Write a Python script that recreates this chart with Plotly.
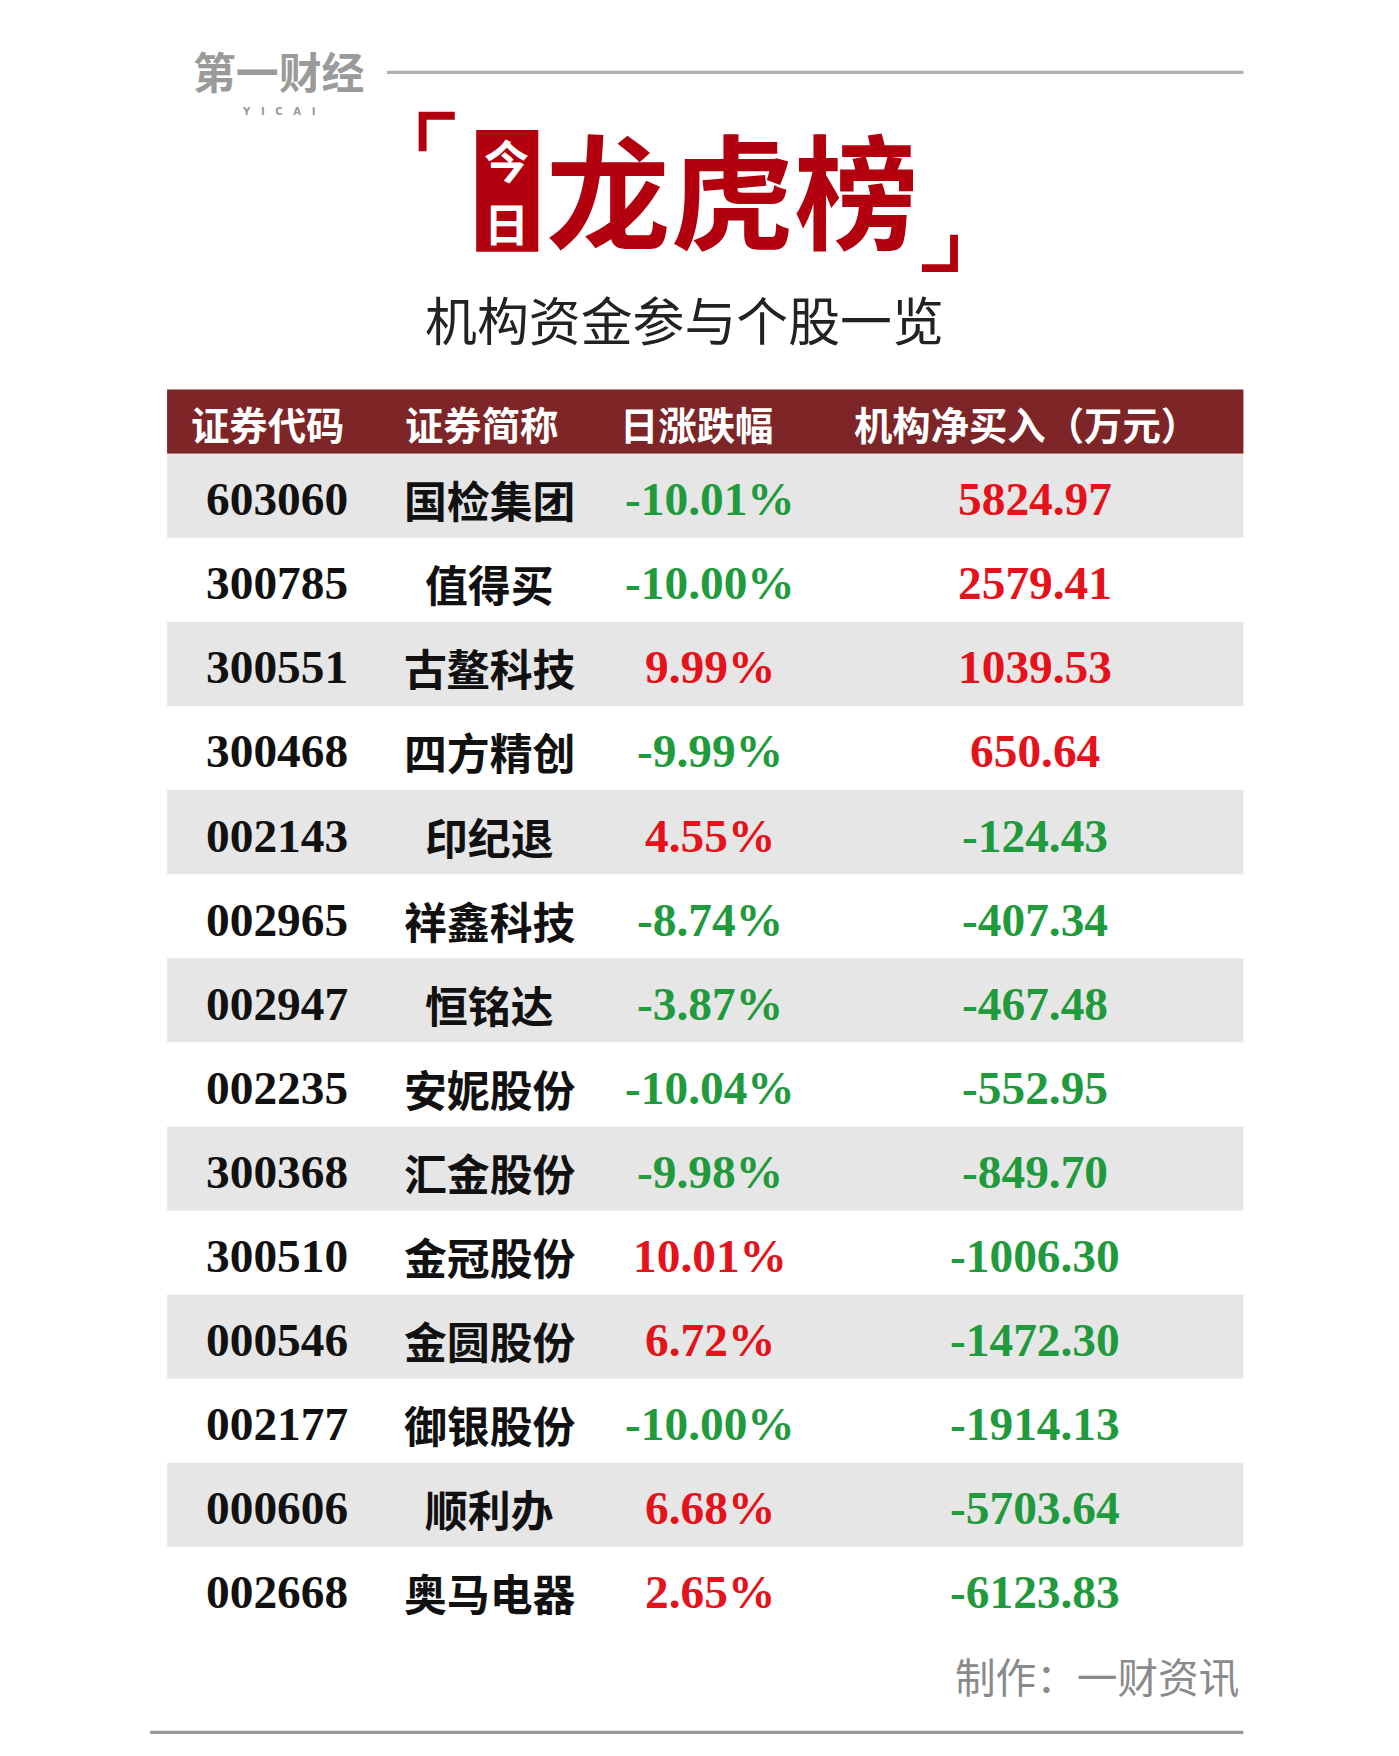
import plotly.graph_objects as go

codes = ["603060", "300785", "300551", "300468", "002143", "002965", "002947",
         "002235", "300368", "300510", "000546", "002177", "000606", "002668"]
names = ["国检集团", "值得买", "古鳌科技", "四方精创", "印纪退", "祥鑫科技", "恒铭达",
         "安妮股份", "汇金股份", "金冠股份", "金圆股份", "御银股份", "顺利办", "奥马电器"]
pct_change = [-10.01, -10.00, 9.99, -9.99, 4.55, -8.74, -3.87,
              -10.04, -9.98, 10.01, 6.72, -10.00, 6.68, 2.65]
net_buy = [5824.97, 2579.41, 1039.53, 650.64, -124.43, -407.34, -467.48,
           -552.95, -849.70, -1006.30, -1472.30, -1914.13, -5703.64, -6123.83]
headers = ["证券代码", "证券简称", "日涨跌幅", "机构净买入（万元）"]

W, H = 1240, 1556  # design units; scaled to the 1399x1756 page
S = 1399 / W
RED = "#e3121b"
GREEN = "#1f9a3c"
DARK = "#7d2527"
SERIF = "Liberation Serif, Noto Sans CJK SC"
CJK = "Noto Sans CJK SC"

fig = go.Figure()
shapes = []
ann = []


def txt(x, y, t, size, color="#111", family=CJK, xanchor="center", bold=True):
    ann.append(dict(x=x, y=y, text=f"<b>{t}</b>" if bold else t, showarrow=False,
                    xanchor=xanchor, yanchor="middle",
                    font=dict(size=size * S, color=color, family=family)))


# logo and top rule
txt(240, 55, "第一财经", 38, "#9a9a9a")
txt(240, 92, "Y   I   C   A   I", 9, "#9a9a9a", family="DejaVu Sans")
shapes.append(dict(type="line", x0=336, x1=1095, y0=57, y1=57,
                   line=dict(color="#b0b0b0", width=3 * S)))

# title
shapes.append(dict(type="path", path="M 396 92 L 364 92 L 364 127 L 371 127 L 371 99 L 396 99 Z",
                   fillcolor="#b3000e", line=dict(width=0)))
shapes.append(dict(type="path", path="M 810 234 L 842 234 L 842 201 L 835 201 L 835 227 L 810 227 Z",
                   fillcolor="#b3000e", line=dict(width=0)))
shapes.append(dict(type="rect", x0=415, x1=470, y0=108, y1=216, fillcolor="#b3000e", line=dict(width=0)))
txt(442, 134, "今", 40, "white")
txt(442, 190, "日", 40, "white")
txt(642, 158, "龙虎榜", 110, "#b3000e")
txt(600, 275, "机构资金参与个股一览", 46, "#222", bold=False)

# table header
shapes.append(dict(type="rect", x0=141, x1=1095, y0=338, y1=395, fillcolor=DARK, line=dict(width=0)))
col_x = [230, 420, 610, 903]
for x, h in zip(col_x, headers):
    txt(x, 368, h, 34, "white")

# rows
row_h = 74.5
for i in range(len(codes)):
    y0 = 395 + i * row_h
    if i % 2 == 0:
        shapes.append(dict(type="rect", x0=141, x1=1095, y0=y0, y1=y0 + row_h,
                           fillcolor="#e6e6e6", line=dict(width=0)))
    yc = y0 + row_h / 2 + 3
    txt(238, yc, codes[i], 42, "#111", family=SERIF)
    txt(427, yc, names[i], 38, "#111")
    pc = pct_change[i]
    txt(622, yc, f"{pc:.2f}%", 42, GREEN if pc < 0 else RED, family=SERIF)
    nb = net_buy[i]
    txt(910, yc, f"{nb:.2f}", 42, GREEN if nb < 0 else RED, family=SERIF)

# footer
txt(1093, 1478, "制作：一财资讯", 36, "#8a8a8a", xanchor="right", bold=False)
shapes.append(dict(type="line", x0=126, x1=1095, y0=1528, y1=1528,
                   line=dict(color="#999", width=3 * S)))

fig.update_layout(
    width=1399, height=1756, margin=dict(l=0, r=0, t=0, b=0),
    paper_bgcolor="white", plot_bgcolor="white",
    xaxis=dict(range=[0, W], visible=False, fixedrange=True),
    yaxis=dict(range=[H, 0], visible=False, fixedrange=True),
    shapes=shapes, annotations=ann, showlegend=False,
)
fig.write_html("out.html")
